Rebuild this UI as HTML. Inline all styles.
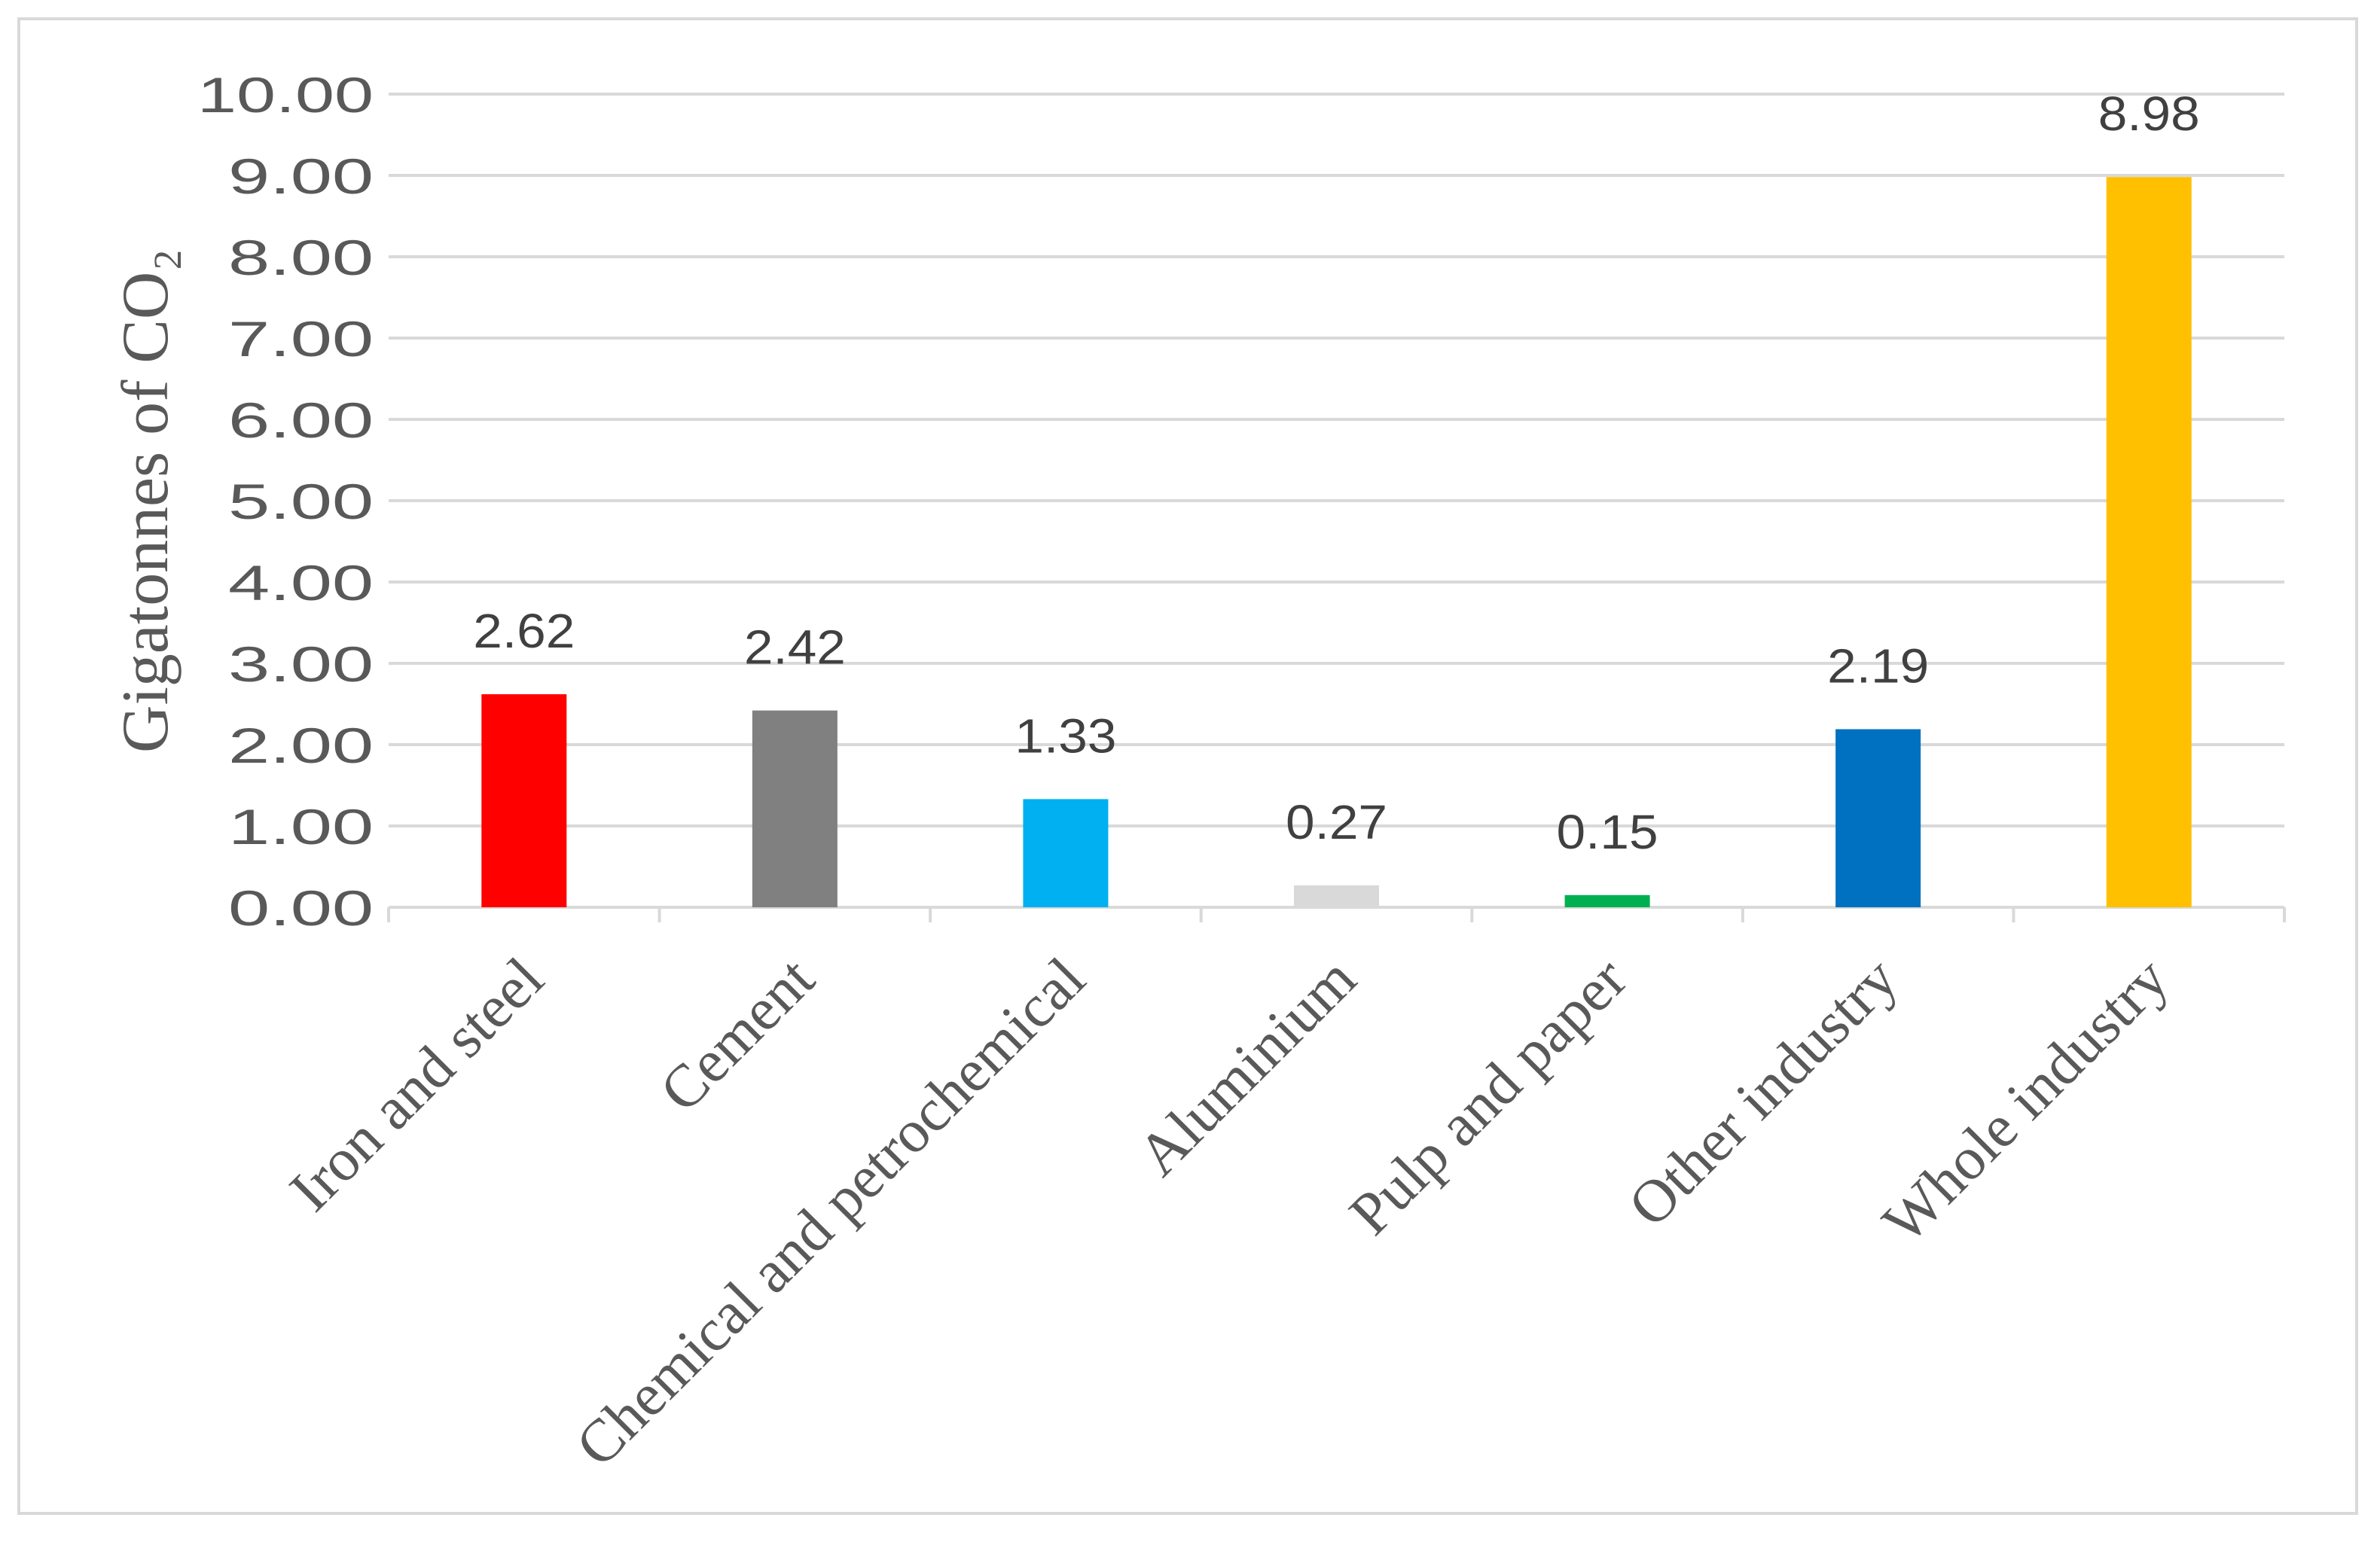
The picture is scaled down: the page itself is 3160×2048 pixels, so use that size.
<!DOCTYPE html>
<html><head><meta charset="utf-8"><style>
html,body{margin:0;padding:0;background:#fff}
svg{display:block}
</style></head><body>
<svg id="chart" width="3160" height="2048" xmlns="http://www.w3.org/2000/svg">
<rect x="25" y="25" width="3104" height="1985" fill="#fff" stroke="#d9d9d9" stroke-width="4"/>
<g id="grid"></g><g id="bars"></g><g id="labels"></g>
<text transform="translate(222,665) rotate(-90)" text-anchor="middle" font-family="Liberation Serif, serif" font-size="88" fill="#595959" textLength="670" lengthAdjust="spacingAndGlyphs">Gigatonnes of CO₂</text>
</svg>
<script>
const categories = ["Iron and steel","Cement","Chemical and petrochemical","Aluminium","Pulp and paper","Other industry","Whole industry"];
const values = [2.62,2.42,1.33,0.27,0.15,2.19,8.98];
const valueLabels = ["2.62","2.42","1.33","0.27","0.15","2.19","8.98"];
const colors = ["#ff0000","#808080","#00b0f0","#d9d9d9","#00b050","#0070c0","#ffc000"];
const yTicks = [0,1,2,3,4,5,6,7,8,9,10];
const yTickLabels = ["0.00","1.00","2.00","3.00","4.00","5.00","6.00","7.00","8.00","9.00","10.00"];
const NS="http://www.w3.org/2000/svg";
const L=516,R=3033,T=125,B=1205;
const band=(R-L)/categories.length;
const y=v=>B-(v/10)*(B-T);
const xc=i=>L+band*(i+0.5);
function mk(tag,attrs,parent){const e=document.createElementNS(NS,tag);for(const k in attrs)e.setAttribute(k,attrs[k]);parent.appendChild(e);return e;}
const grid=document.getElementById('grid'),bars=document.getElementById('bars'),labs=document.getElementById('labels');
yTicks.forEach((t,i)=>{
  const g=mk('line',{x1:L,x2:R,y1:y(t),y2:y(t),stroke:'#d9d9d9','stroke-width':4},grid);
  
  
  const lbl=yTickLabels[i];
  const tx=mk('text',{x:496,y:y(t)+24,'text-anchor':'end','font-family':'Liberation Sans, sans-serif','font-size':66,fill:'#595959',textLength:lbl.length===5?234:193,lengthAdjust:'spacingAndGlyphs'},grid);
  tx.textContent=lbl;
  
  
});
for(let i=0;i<=categories.length;i++){
  const tk=mk('line',{x1:L+band*i,x2:L+band*i,y1:B,y2:B+20,stroke:'#d9d9d9','stroke-width':4},grid);
  
  
}
const bw=113;
categories.forEach((c,i)=>{
  const r=mk('rect',{x:xc(i)-bw/2,y:y(values[i]),width:bw,height:B-y(values[i]),fill:colors[i]},bars);
  
  
  const v=mk('text',{x:xc(i),y:y(values[i])-62,'text-anchor':'middle','font-family':'Liberation Sans, sans-serif','font-size':64,fill:'#404040',textLength:135,lengthAdjust:'spacingAndGlyphs'},labs);
  v.textContent=valueLabels[i];
  
  
  const ax=xc(i)+30, ay=1305;
  const t=mk('text',{x:ax,y:ay,'text-anchor':'end','font-family':'Liberation Serif, serif','font-size':80,fill:'#595959',transform:`rotate(-45 ${ax} ${ay})`},labs);
  t.textContent=c;
  
  
});
</script>
</body></html>
